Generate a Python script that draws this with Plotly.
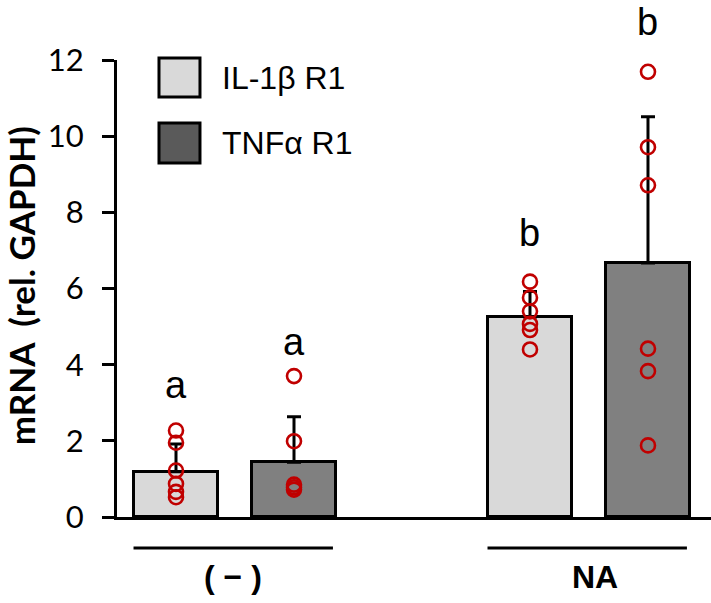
import plotly.graph_objects as go

# ---- data ----
series_names = ["IL-1β R1", "TNFα R1"]
group_labels = ["( − )", "NA"]
x_il1 = [0, 3]
x_tnf = [1, 4]
mean_il1 = [1.19, 5.25]
mean_tnf = [1.44, 6.67]
sd_il1 = [0.73, 0.67]
sd_tnf = [1.19, 3.84]
pts_il1 = [[2.27, 1.95, 1.22, 0.87, 0.66, 0.52],
           [6.18, 5.76, 5.40, 5.07, 4.91, 4.40]]
pts_tnf = [[3.70, 1.99, 0.85, 0.78, 0.72],
           [11.69, 9.71, 8.71, 4.42, 3.83, 1.88]]
letters_il1 = ["a", "b"]
letters_tnf = ["a", "b"]
letter_y_il1 = [3.47, 7.46]
letter_y_tnf = [4.6, 13.0]
yticks = [0, 2, 4, 6, 8, 10, 12]
y_max = 12

LIGHT = "#d9d9d9"
DARK = "#808080"
DARK_LEG = "#5a5a5a"
RED = "#c00000"

fig = go.Figure()
fig.add_trace(go.Bar(
    x=x_il1, y=mean_il1, width=0.72, name=series_names[0],
    marker=dict(color=LIGHT, line=dict(color="black", width=3)),
    error_y=dict(type="data", array=sd_il1, arrayminus=[0, 0], symmetric=False,
                 color="black", thickness=3, width=7),
    showlegend=False))
fig.add_trace(go.Bar(
    x=x_tnf, y=mean_tnf, width=0.72, name=series_names[1],
    marker=dict(color=DARK, line=dict(color="black", width=3)),
    error_y=dict(type="data", array=sd_tnf, arrayminus=[0, 0], symmetric=False,
                 color="black", thickness=3, width=7),
    showlegend=False))

for xs, pts in ((x_il1, pts_il1), (x_tnf, pts_tnf)):
    for xv, pv in zip(xs, pts):
        fig.add_trace(go.Scatter(
            x=[xv] * len(pv), y=pv, mode="markers", showlegend=False,
            cliponaxis=False,
            marker=dict(symbol="circle-open", size=14, color=RED,
                        line=dict(width=2.6, color=RED))))

# significance letters (y given in data units, placed on paper so they may exceed the range)
for xs, ls, ys in ((x_il1, letters_il1, letter_y_il1), (x_tnf, letters_tnf, letter_y_tnf)):
    for xv, lt, yv in zip(xs, ls, ys):
        fig.add_annotation(x=xv, xref="x", y=yv / y_max, yref="paper",
                           xanchor="center", yanchor="middle",
                           text=lt, showarrow=False,
                           font=dict(family="Liberation Sans, Arial", size=38, color="black"))

# group lines and labels
label_shift = [-2, 6]
for (xa, xb), lab, sh in zip(((x_il1[0], x_tnf[0]), (x_il1[1], x_tnf[1])), group_labels, label_shift):
    fig.add_shape(type="line", xref="x", yref="paper",
                  x0=xa - 0.36, x1=xb + 0.33, y0=-0.068, y1=-0.068,
                  xsizemode="scaled", line=dict(color="black", width=3))
    fig.add_annotation(x=(xa + xb) / 2, xref="x", y=-0.132, yref="paper",
                       xanchor="center", yanchor="middle", xshift=sh,
                       text="<b>" + lab + "</b>", showarrow=False,
                       font=dict(family="Liberation Sans, Arial", size=32, color="black"))

# legend (custom)
leg = [(LIGHT, series_names[0], 1.0044, 0.919), (DARK_LEG, series_names[1], 0.862, 0.7746)]
for col, name, y1, y0 in leg:
    fig.add_shape(type="rect", xref="paper", yref="paper",
                  x0=0.0707, x1=0.1397, y0=y0, y1=y1,
                  fillcolor=col, line=dict(color="black", width=3))
    fig.add_annotation(xref="paper", yref="paper", x=0.1734, y=(y0 + y1) / 2,
                       xanchor="left", yanchor="middle", text=name, showarrow=False,
                       font=dict(family="Liberation Sans, Arial", size=32, color="black"))

# y axis title
fig.add_annotation(xref="paper", yref="paper", x=-0.1616, y=0.505,
                   xanchor="center", yanchor="middle",
                   text="<b>mRNA  (rel. GAPDH)</b>", textangle=-90, showarrow=False,
                   font=dict(family="Lato, Calibri, sans-serif", size=35, color="black"))

fig.update_layout(
    width=711, height=603,
    margin=dict(l=117, r=0, t=60, b=86),
    plot_bgcolor="white", paper_bgcolor="white",
    bargap=0,
    xaxis=dict(range=[-0.5, 4.534], showline=True, linecolor="black", linewidth=3,
               showticklabels=False, ticks="", showgrid=False, zeroline=False,
               fixedrange=True),
    yaxis=dict(range=[0, y_max], tickvals=yticks, showline=True, linecolor="black",
               linewidth=3, ticks="outside", ticklen=12, tickwidth=3, tickcolor="black",
               ticklabelstandoff=12,
               showgrid=False, zeroline=False,
               tickfont=dict(family="Lato, Calibri, sans-serif", size=31, color="black")),
)

fig.write_html("out.html", config={"displayModeBar": False},
               post_script="document.body.style.margin='0px';document.body.style.overflow='hidden';")
